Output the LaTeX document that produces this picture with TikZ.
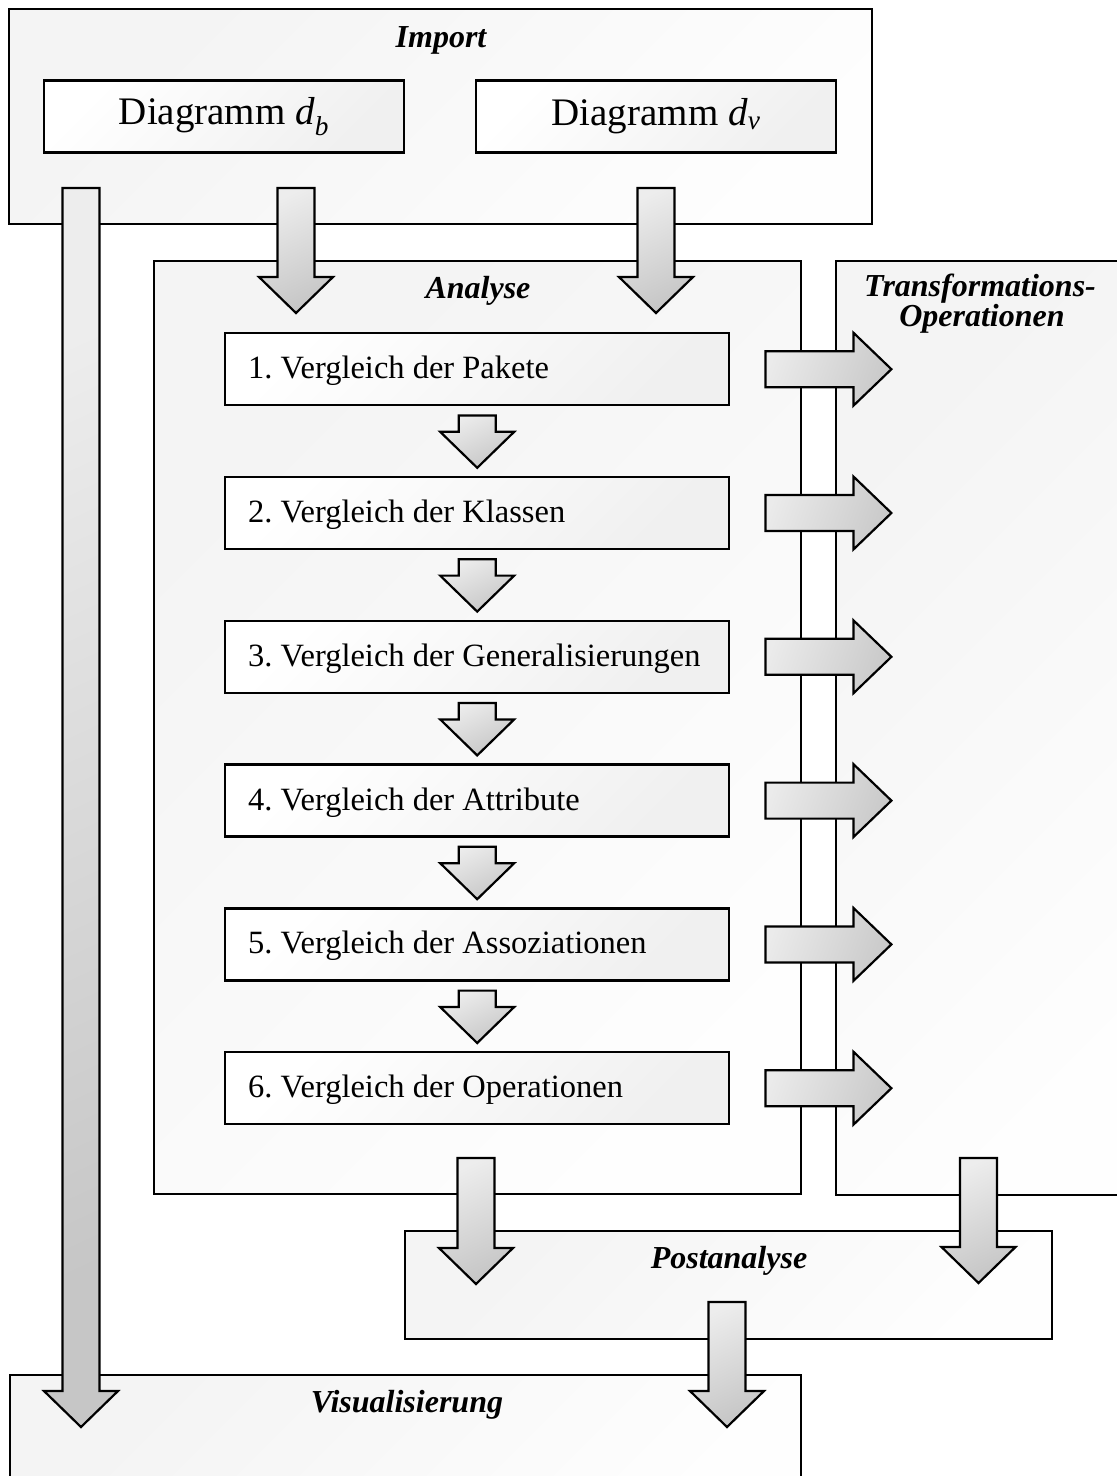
\documentclass[tikz,border=0pt]{standalone}
\usepackage{fontspec}
\setmainfont{Liberation Serif}
\usetikzlibrary{calc}
\frenchspacing

% block arrow pointing down, from shaft top #1 to tip #2
\newcommand\downblock[2]{%
  \draw[blockarrow, downshade] let \p1=(#1), \p2=(#2) in
    (\x1-18.5pt,\y1) -- (\x1+18.5pt,\y1) -- (\x1+18.5pt,\y2+36pt) -- (\x1+37pt,\y2+36pt)
    -- (\x2,\y2) -- (\x1-37pt,\y2+36pt) -- (\x1-18.5pt,\y2+36pt) -- cycle;}
% block arrow pointing right, from shaft start #1 to tip #2
\newcommand\rightblock[2]{%
  \draw[blockarrow, rightshade] let \p1=(#1), \p2=(#2) in
    (\x1,\y1+18pt) -- (\x2-38pt,\y1+18pt) -- (\x2-38pt,\y1+36.5pt) -- (\x2,\y2)
    -- (\x2-38pt,\y1-36.5pt) -- (\x2-38pt,\y1-18pt) -- (\x1,\y1-18pt) -- cycle;}

\begin{document}
\begin{tikzpicture}[x=1pt,y=-1pt,
  panel/.style={rectangle, draw=black, line width=2.4pt, top color=gray!9, bottom color=gray!1,
    shading angle=45, inner sep=0pt, anchor=north west},
  itembox/.style={rectangle, draw=black, line width=2.4pt, top color=white, bottom color=gray!12,
    shading angle=45, anchor=north west, inner xsep=23pt, inner ysep=0pt,
    minimum width=504pt, minimum height=72pt, text height=23pt, text depth=4pt,
    font=\fontsize{32.5}{36}\selectfont},
  dbox/.style={rectangle, draw=black, line width=2.4pt, top color=white, bottom color=gray!12,
    shading angle=45, inner sep=0pt, minimum width=360pt, minimum height=72pt,
    font=\fontsize{39}{44}\selectfont},
  title/.style={anchor=base, inner sep=0pt, font=\fontsize{32}{36}\selectfont\bfseries\itshape},
  blockarrow/.style={draw=black, line width=2.2pt, line join=miter},
  downshade/.style={top color=gray!14, bottom color=gray!45, shading angle=25},
  rightshade/.style={top color=gray!16, bottom color=gray!42, shading angle=70}]

\useasboundingbox (0,0) rectangle (1117,1476);
\clip (0,0) rectangle (1117,1476);
\fill[white] (0,0) rectangle (1117,1476);

% panels
\node[panel, minimum width=863pt, minimum height=215pt] (import) at (8,8) {};
\node[panel, minimum width=647pt, minimum height=933pt] (analyse) at (153,260) {};
\node[panel, minimum width=300pt, minimum height=934pt] (trans) at (835,260) {};
\node[panel, minimum width=647pt, minimum height=108pt] (post) at (404,1230) {};
\node[panel, minimum width=791pt, minimum height=130pt] (vis) at (9,1374) {};

% panel titles
\node[title] (timp) at (441,47) {Import};
\node[title] (tana) at (478,298) {Analyse};
\node[title] (ttra) at (980,296) {Transformations-};
\node[title] (tops) at (982,326) {Operationen};
\node[title] (tpost) at (729,1268) {Postanalyse};
\node[title] (tvis) at (407,1412) {Visualisierung};

% input diagrams
\node[dbox] (db) at (224,116.5) {Diagramm \textit{d}\textsubscript{\textit{b}}};
\node[dbox] (dv) at (656,116.5) {Diagramm \textit{d}\textsubscript{\textit{v}}};

% analysis steps
\foreach \i/\txt in {1/{1. Vergleich der Pakete},2/{2. Vergleich der Klassen},
    3/{3. Vergleich der Generalisierungen},4/{4. Vergleich der Attribute},
    5/{5. Vergleich der Assoziationen},6/{6. Vergleich der Operationen}}{
  \pgfmathsetmacro\ytop{332+(\i-1)*143.8}
  \node[itembox] (s\i) at (224,\ytop) {\makebox[458pt][l]{\txt}};
}

% arrows between the steps
\foreach \i [evaluate=\i as \j using int(\i+1)] in {1,...,5}{
  \coordinate (va\i) at ($(s\i.south)+(0,9)$);
  \coordinate (vb\i) at ($(s\j.north)+(0,-8)$);
  \downblock{va\i}{vb\i}
}

% arrows from each step to the transformation operations
\foreach \i in {1,...,6}{
  \coordinate (ha\i) at ($(s\i.east)+(35,0)$);
  \coordinate (hb\i) at ($(s\i.east)+(161,0)$);
  \rightblock{ha\i}{hb\i}
}

% arrows between the panels
\coordinate (imva) at (81,188);   \coordinate (imvb) at (81,1427);
\coordinate (ima1) at (296,188);  \coordinate (imb1) at (296,313);
\coordinate (ima2) at (656,188);  \coordinate (imb2) at (656,313);
\coordinate (anpa) at (476,1158); \coordinate (anpb) at (476,1284);
\coordinate (trpa) at (978.5,1158); \coordinate (trpb) at (978.5,1283);
\coordinate (pova) at (727,1302); \coordinate (povb) at (727,1427);

\downblock{imva}{imvb}
\downblock{ima1}{imb1}
\downblock{ima2}{imb2}
\downblock{anpa}{anpb}
\downblock{trpa}{trpb}
\downblock{pova}{povb}
\end{tikzpicture}
\end{document}
